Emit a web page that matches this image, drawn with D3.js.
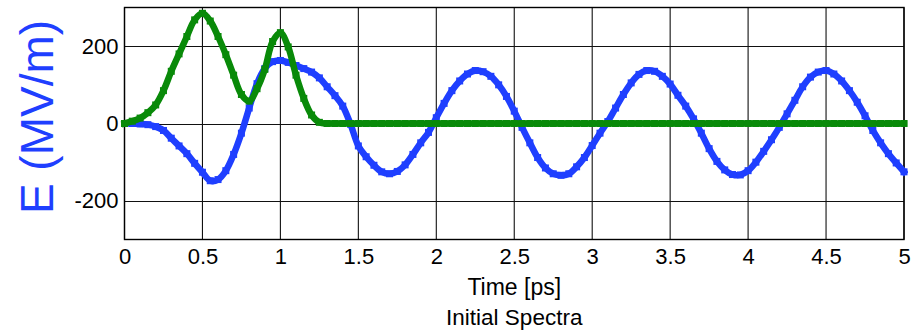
<!DOCTYPE html>
<html>
<head>
<meta charset="utf-8">
<script src="https://cdn.jsdelivr.net/npm/d3@7"></script>
<style>
  html, body { margin: 0; padding: 0; background: #fff; }
  svg { display: block; }
  text { font-family: "Liberation Sans", Arial, Helvetica, sans-serif; }
</style>
</head>
<body>
<svg id="chart" width="914" height="334"></svg>
<script>
// ---- data ----
const timeStep = 0.05; // ps between samples
const blueValues = [
  0, 0, -1, -3, -8, -18, -38, -58, -78, -103,
  -126, -148, -145, -122, -80, -25, 40, 103, 142, 160,
  163, 158, 150, 142, 133, 118, 95, 72, 45, -2,
  -58, -86, -108, -125, -130, -124, -107, -80, -50, -23,
  15, 52, 85, 110, 128, 137, 134, 122, 100, 70,
  32, -10, -50, -88, -115, -130, -134, -130, -112, -88,
  -57, -25, 5, 40, 75, 105, 127, 137, 135, 122,
  102, 73, 45, 12, -25, -65, -98, -120, -132, -133,
  -122, -100, -72, -42, -10, 25, 60, 95, 120, 133,
  137, 128, 110, 85, 55, 20, -18, -50, -78, -102,
  -125
];
const greenValues = [
  0, 6, 14, 28, 48, 85, 135, 180, 225, 268,
  285, 265, 225, 178, 125, 75, 58, 90, 140, 212,
  235, 198, 125, 65, 22, 3, 0, 0, 0, 0,
  0, 0, 0, 0, 0, 0, 0, 0, 0, 0,
  0, 0, 0, 0, 0, 0, 0, 0, 0, 0,
  0, 0, 0, 0, 0, 0, 0, 0, 0, 0,
  0, 0, 0, 0, 0, 0, 0, 0, 0, 0,
  0, 0, 0, 0, 0, 0, 0, 0, 0, 0,
  0, 0, 0, 0, 0, 0, 0, 0, 0, 0,
  0, 0, 0, 0, 0, 0, 0, 0, 0, 0,
  0
];
const xTicks = [0, 0.5, 1, 1.5, 2, 2.5, 3, 3.5, 4, 4.5, 5];
const xTickLabels = ["0", "0.5", "1", "1.5", "2", "2.5", "3", "3.5", "4", "4.5", "5"];
const yTicks = [-200, 0, 200];
const yTickLabels = ["-200", "0", "200"];
const xLabel = "Time [ps]";
const yLabel = "E (MV/m)";
const caption = "Initial Spectra";

// ---- layout ----
const L = 124.5, R = 904, T = 7.5, B = 239.5;
const svg = d3.select("#chart");
const x = d3.scaleLinear().domain([0, 5]).range([L, R]);
const y = d3.scaleLinear().domain([-300, 300]).range([B, T]);

// grid
const grid = svg.append("g");
grid.selectAll("line.v").data(xTicks).enter().append("line")
  .attr("x1", d => x(d)).attr("x2", d => x(d))
  .attr("y1", T).attr("y2", B)
  .attr("stroke", "#111").attr("stroke-width", 1.1);
grid.selectAll("line.h").data(yTicks).enter().append("line")
  .attr("x1", L).attr("x2", R)
  .attr("y1", d => Math.round(y(d)) + 0.5).attr("y2", d => Math.round(y(d)) + 0.5)
  .attr("stroke", "#111").attr("stroke-width", 1.1);

// frame
svg.append("rect").attr("x", L).attr("y", T).attr("width", R - L).attr("height", B - T)
  .attr("fill", "none").attr("stroke", "#000").attr("stroke-width", 1.4);

// axes labels via d3 axes
const xAxis = d3.axisBottom(x).tickValues(xTicks).tickFormat((d, i) => xTickLabels[i]).tickSize(0).tickPadding(9);
const gx = svg.append("g").attr("transform", `translate(0,${B})`).call(xAxis);
gx.select(".domain").remove();
gx.selectAll("text").attr("font-size", 22).attr("fill", "#000")
  .attr("font-family", "Liberation Sans, Arial, sans-serif");

const yAxis = d3.axisLeft(y).tickValues(yTicks).tickFormat((d, i) => yTickLabels[i]).tickSize(0).tickPadding(6);
const gy = svg.append("g").attr("transform", `translate(${L},0)`).call(yAxis);
gy.select(".domain").remove();
gy.selectAll("text").attr("font-size", 22).attr("fill", "#000")
  .attr("font-family", "Liberation Sans, Arial, sans-serif");

// series
const clip = svg.append("clipPath").attr("id", "clip").append("rect")
  .attr("x", L - 4).attr("y", T - 4).attr("width", R - L + 8).attr("height", B - T + 8);

function drawSeries(values, color) {
  const pts = values.map((v, i) => [i * timeStep, v]);
  const g = svg.append("g").attr("clip-path", "url(#clip)");
  const line = d3.line().x(d => x(d[0])).y(d => y(d[1])).curve(d3.curveCatmullRom.alpha(0.5));
  g.append("path").datum(pts).attr("d", line)
    .attr("fill", "none").attr("stroke", color).attr("stroke-width", 6.5)
    .attr("stroke-linejoin", "round").attr("stroke-linecap", "square");
  g.selectAll("rect").data(pts).enter().append("rect")
    .attr("x", d => x(d[0]) - 3.5).attr("y", d => y(d[1]) - 3.5)
    .attr("width", 7).attr("height", 7).attr("fill", color);
}
drawSeries(blueValues, "#1f3fff");
drawSeries(greenValues, "#098a09");

// axis titles
svg.append("text").attr("x", (L + R) / 2).attr("y", 295).attr("text-anchor", "middle")
  .attr("font-size", 23).attr("fill", "#000").text(xLabel);
svg.append("text").attr("x", (L + R) / 2).attr("y", 325).attr("text-anchor", "middle")
  .attr("font-size", 22.5).attr("fill", "#000").text(caption);
svg.append("text").attr("transform", "translate(53,117) rotate(-90)").attr("text-anchor", "middle")
  .attr("font-size", 46).attr("fill", "#1f3fff").text(yLabel);
</script>
</body>
</html>
